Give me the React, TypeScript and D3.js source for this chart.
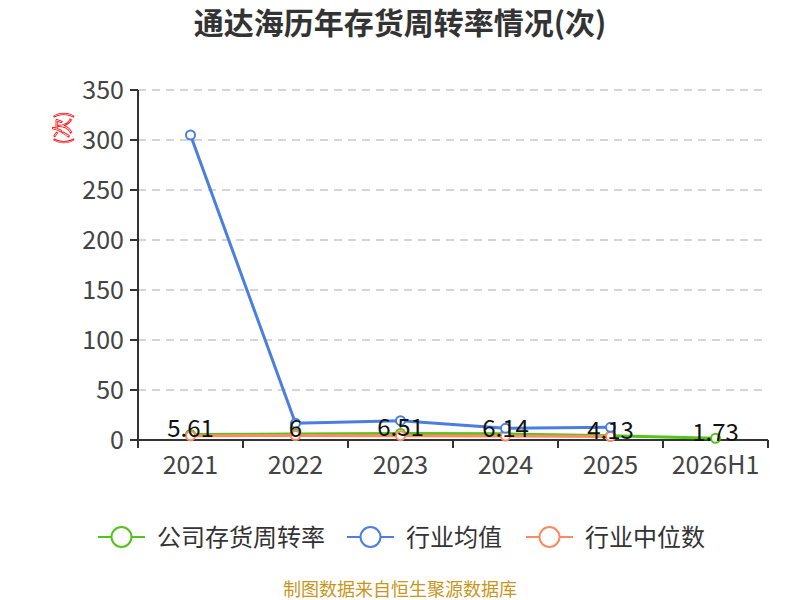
import * as d3 from "d3";

const categories = ["2021", "2022", "2023", "2024", "2025", "2026H1"];
const companyValues = [5.61, 6, 6.51, 6.14, 4.13, 1.73];
const industryMean = [305, 16.7, 19.3, 11.7, 12.7];
const industryMedian = [4.2, 4.5, 4.3, 4.0, 3.5];
const yTicks = [0, 50, 100, 150, 200, 250, 300, 350];

const GREEN = "#52c41a";
const BLUE = "#4a7ee0";
const ORANGE = "#fe8a5f";
const FONT = "'Noto Sans CJK SC', 'Noto Sans', sans-serif";

const width = 800;
const height = 600;
const margin = { top: 90, right: 32, bottom: 160, left: 138 };
const innerWidth = width - margin.left - margin.right;
const innerHeight = height - margin.top - margin.bottom;

const x = d3.scaleBand().domain(categories).range([0, innerWidth]);
const y = d3.scaleLinear().domain([0, 350]).range([innerHeight, 0]);
const cx = (c: string) => (x(c) ?? 0) + x.bandwidth() / 2;

const line = d3
  .line<[string, number]>()
  .x((d) => cx(d[0]))
  .y((d) => y(d[1]));

const series = [
  { name: "公司存货周转率", color: GREEN, values: companyValues },
  { name: "行业均值", color: BLUE, values: industryMean },
  { name: "行业中位数", color: ORANGE, values: industryMedian },
];
const drawOrder = [series[0], series[2], series[1]];

// legend item left edges
const legendX = [98, 347, 526];

const App = () => {
  return (
    <svg
      width={width}
      height={height}
      viewBox={`0 0 ${width} ${height}`}
      style={{ position: "absolute", left: 0, top: 0, fontFamily: FONT }}
    >
      <rect width={width} height={height} fill="#fff" />
      <text x={400} y={34} textAnchor="middle" fontSize={30} fontWeight="bold" fill="#333">
        通达海历年存货周转率情况(次)
      </text>

      <g transform={`translate(${margin.left}, ${margin.top})`}>
        {/* grid + y ticks */}
        {yTicks.map((t) => (
          <g key={t} transform={`translate(0, ${y(t)})`}>
            {t > 0 && (
              <line x1={0} x2={innerWidth} stroke="#c8c8c8" strokeDasharray="8,6" strokeWidth={1.5} />
            )}
            <line x1={-8} x2={0} stroke="#333" strokeWidth={2} />
            <text x={-14} y={9} textAnchor="end" fontSize={25} fill="#444">
              {t}
            </text>
          </g>
        ))}
        <line x1={0} x2={0} y1={0} y2={innerHeight} stroke="#333" strokeWidth={2} />

        {/* y axis name */}
        <text
          transform={`translate(-68, 38) rotate(-90)`}
          textAnchor="middle"
          fontSize={20}
          fill="none"
          stroke="#f00"
          strokeWidth={0.8}
        >
          (次)
        </text>

        {/* x axis */}
        <line x1={0} x2={innerWidth} y1={innerHeight} y2={innerHeight} stroke="#333" strokeWidth={2} />
        {d3.range(categories.length + 1).map((i) => (
          <line
            key={i}
            x1={i * x.bandwidth()}
            x2={i * x.bandwidth()}
            y1={innerHeight}
            y2={innerHeight + 8}
            stroke="#333"
            strokeWidth={2}
          />
        ))}
        {categories.map((c) => (
          <text key={c} x={cx(c)} y={innerHeight + 34} textAnchor="middle" fontSize={25} fill="#444">
            {c}
          </text>
        ))}

        {/* lines */}
        {drawOrder.map((s) => {
          const pts = s.values.map((v, i) => [categories[i], v] as [string, number]);
          return (
            <g key={s.name}>
              <path d={line(pts) ?? ""} fill="none" stroke={s.color} strokeWidth={3} />
              {pts.map((p) => (
                <circle key={p[0]} cx={cx(p[0])} cy={y(p[1])} r={4.5} fill="#fff" stroke={s.color} strokeWidth={2} />
              ))}
            </g>
          );
        })}

        {/* company labels */}
        {companyValues.map((v, i) => (
          <text key={i} x={cx(categories[i])} y={y(v) + 3} textAnchor="middle" fontSize={24} fill="#111">
            {v}
          </text>
        ))}
      </g>

      {/* legend */}
      {series.map((s, i) => (
        <g key={s.name} transform={`translate(${legendX[i]}, 537)`}>
          <line x1={0} x2={47} stroke={s.color} strokeWidth={2} />
          <circle cx={23.5} cy={0} r={10} fill="#fff" stroke={s.color} strokeWidth={2} />
          <text x={59} y={8.5} fontSize={24} fill="#333">
            {s.name}
          </text>
        </g>
      ))}

      <text x={400} y={596} textAnchor="middle" fontSize={18} fill="#c8961e">
        制图数据来自恒生聚源数据库
      </text>
    </svg>
  );
};

export default App;
